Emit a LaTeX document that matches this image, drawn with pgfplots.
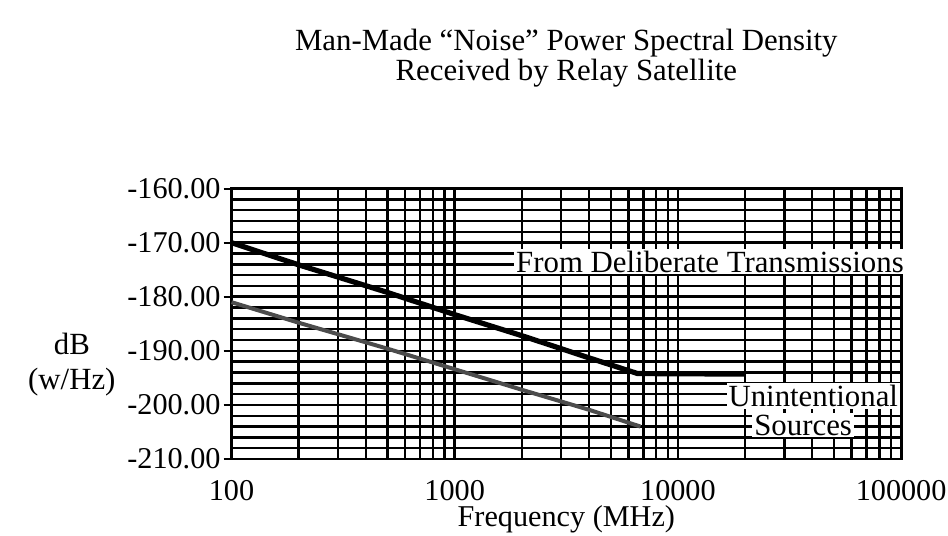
\documentclass[border=0pt]{standalone}
\usepackage{pgfplots}
\pgfplotsset{compat=1.18}
\usepackage{fontspec}
\setmainfont{Liberation Serif}
\newcommand{\fs}{\fontsize{15.5}{17.5}\selectfont}
\newcommand{\fst}{\fontsize{15.2}{17}\selectfont}
\begin{document}
\begin{tikzpicture}
\begin{axis}[
  scale only axis, width=335.5bp, height=135.5bp,
  xmode=log, log basis x=10,
  xmin=100, xmax=100000, ymin=-210, ymax=-160,
  xtick={100,1000,10000,100000},
  xticklabels={100,1000,10000,100000},
  minor xtick={200,300,400,500,600,700,800,900,2000,3000,4000,5000,6000,7000,8000,9000,20000,30000,40000,50000,60000,70000,80000,90000},
  ytick={-210,-200,-190,-180,-170,-160},
  yticklabels={-210.00,-200.00,-190.00,-180.00,-170.00,-160.00},
  minor ytick={-208,-206,-204,-202,-198,-196,-194,-192,-188,-186,-184,-182,-178,-176,-174,-172,-168,-166,-164,-162},
  xmajorgrids, xminorgrids, ymajorgrids, yminorgrids,
  major grid style={black, line width=1.35bp},
  minor grid style={black, line width=1.2bp},
  axis line style={black, line width=1.4bp},
  tick align=outside, ytick pos=left,
  major tick length=4bp, minor tick length=0pt,
  xtick style={draw=none},
  ytick style={black, line width=1bp},
  ticklabel style={font=\fst},
  xticklabel style={yshift=-3bp},
  yticklabel style={xshift=2bp},
  clip=false,
]
\addplot[black, line width=2.6bp] coordinates {
  (100,-170) (200,-174.1) (500,-179.2) (1000,-183.3) (2000,-187.2) (4000,-191.3) (6600,-194.2) (20000,-194.3)
};
\addplot[black!70, line width=2bp] coordinates {
  (100,-181) (200,-184.8) (500,-189.6) (1000,-193.4) (2000,-197.2) (4000,-200.9) (6800,-204.0)
};
\node[fill=white, inner sep=1bp, anchor=west, font=\fs] at (axis cs:1840,-173.5) {From Deliberate Transmissions};
\node[fill=white, inner sep=1bp, font=\fs] at (axis cs:40400,-198.4) {Unintentional};
\node[fill=white, inner sep=1bp, font=\fs] at (axis cs:36400,-203.7) {Sources};
\node[align=center, font=\fs] at ([xshift=-80bp]rel axis cs:0,0.35) {dB\\(w/Hz)};
\node[font=\fst] at ([yshift=-30bp]rel axis cs:0.5,0) {Frequency (MHz)};
\node[font=\fs] at ([yshift=73bp]rel axis cs:0.5,1) {Man-Made ``Noise'' Power Spectral Density};
\node[font=\fs] at ([yshift=58bp]rel axis cs:0.5,1) {Received by Relay Satellite};
\end{axis}
\pgfresetboundingbox
\path ([xshift=-116bp,yshift=-38.5bp]current axis.south west) rectangle ([xshift=23.5bp,yshift=94.5bp]current axis.north east);
\end{tikzpicture}
\end{document}
